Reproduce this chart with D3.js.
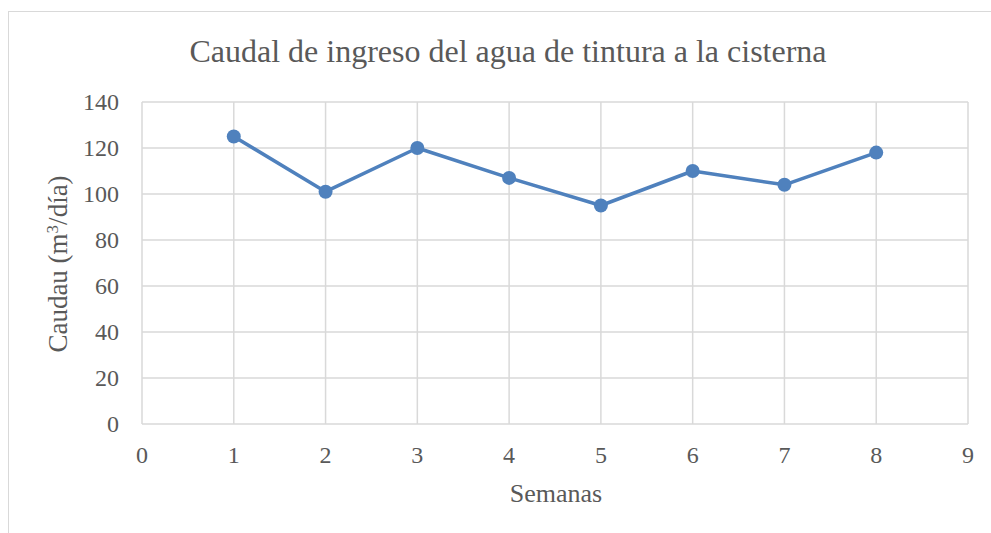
<!DOCTYPE html>
<html>
  <head>
    <title>Caudal de ingreso</title>
    <script src="https://d3js.org/d3.v7.min.js" charset="utf-8"></script>
    <style type="text/css">
      body { margin: 0; background: #fff; }
      text { font-family: "Liberation Serif", "DejaVu Serif", serif; fill: #595959; }
    </style>
  </head>
  <body>
    <script type="text/javascript">
      // Data
      var semanas = [1, 2, 3, 4, 5, 6, 7, 8];
      var caudal = [125, 101, 120, 107, 95, 110, 104, 118];
      var xTicks = [0, 1, 2, 3, 4, 5, 6, 7, 8, 9];
      var yTicks = [0, 20, 40, 60, 80, 100, 120, 140];

      var width = 991, height = 533;
      var svg = d3.select("body").append("svg")
          .attr("width", width)
          .attr("height", height);

      // chart border
      svg.append("rect")
          .attr("x", 8.5).attr("y", 11.5)
          .attr("width", 990).attr("height", 530)
          .style("fill", "none")
          .style("stroke", "#d9d9d9");

      var x = d3.scaleLinear().domain([0, 9]).range([142, 968]);
      var y = d3.scaleLinear().domain([0, 140]).range([424, 102]);

      // gridlines
      svg.selectAll(".hgrid").data(yTicks).enter().append("line")
          .attr("x1", x(0)).attr("x2", x(9))
          .attr("y1", function(d) { return y(d); })
          .attr("y2", function(d) { return y(d); })
          .style("stroke", "#d9d9d9").style("stroke-width", 1.5);
      svg.selectAll(".vgrid").data(xTicks).enter().append("line")
          .attr("y1", y(0)).attr("y2", y(140))
          .attr("x1", function(d) { return x(d); })
          .attr("x2", function(d) { return x(d); })
          .style("stroke", "#d9d9d9").style("stroke-width", 1.5);

      // tick labels
      svg.selectAll(".ylab").data(yTicks).enter().append("text")
          .attr("x", 119)
          .attr("y", function(d) { return y(d) + 8; })
          .attr("text-anchor", "end")
          .style("font-size", "24px")
          .text(function(d) { return d; });
      svg.selectAll(".xlab").data(xTicks).enter().append("text")
          .attr("x", function(d) { return x(d); })
          .attr("y", 463)
          .attr("text-anchor", "middle")
          .style("font-size", "24px")
          .text(function(d) { return d; });

      // title and axis titles
      svg.append("text")
          .attr("x", 508).attr("y", 62)
          .attr("text-anchor", "middle")
          .style("font-size", "32px")
          .text("Caudal de ingreso del agua de tintura a la cisterna");
      svg.append("text")
          .attr("x", 556).attr("y", 502)
          .attr("text-anchor", "middle")
          .style("font-size", "26px")
          .text("Semanas");
      var yt = svg.append("text")
          .attr("transform", "translate(67,264) rotate(-90)")
          .attr("text-anchor", "middle")
          .style("font-size", "27px");
      yt.append("tspan").text("Caudau (m");
      yt.append("tspan").attr("baseline-shift", "super").style("font-size", "17px").text("3");
      yt.append("tspan").text("/día)");

      // series
      var pts = semanas.map(function(s, i) { return [s, caudal[i]]; });
      var line = d3.line()
          .x(function(d) { return x(d[0]); })
          .y(function(d) { return y(d[1]); });
      svg.append("path")
          .datum(pts)
          .attr("d", line)
          .style("fill", "none")
          .style("stroke", "#4f81bd")
          .style("stroke-width", 3.5)
          .style("stroke-linejoin", "round");
      svg.selectAll(".pt").data(pts).enter().append("circle")
          .attr("cx", function(d) { return x(d[0]); })
          .attr("cy", function(d) { return y(d[1]); })
          .attr("r", 7)
          .style("fill", "#4f81bd");
    </script>
  </body>
</html>
